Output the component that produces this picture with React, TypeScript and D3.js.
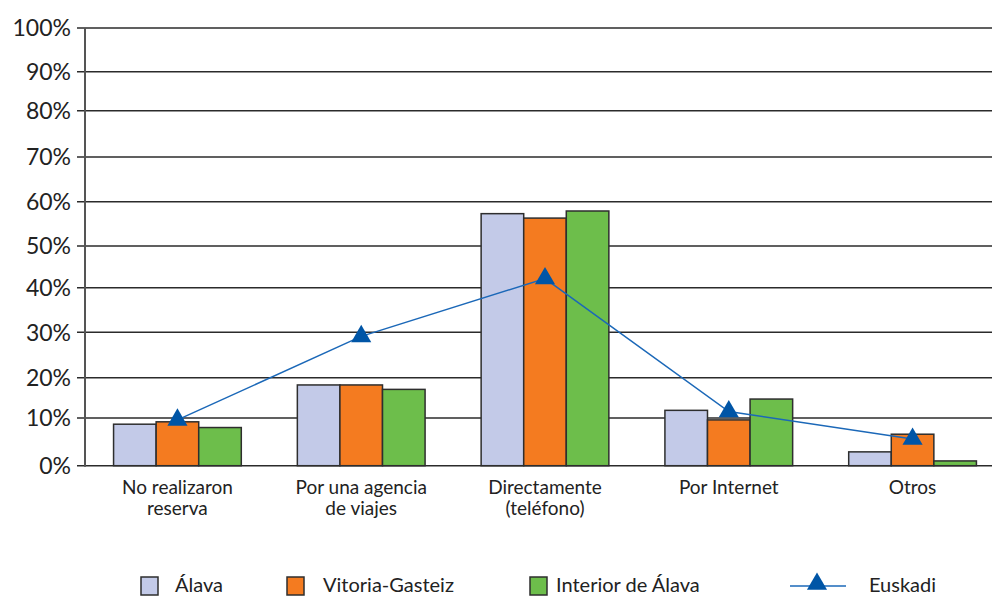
import * as d3 from 'd3';
import React, { useEffect, useRef } from 'react';

const categories = [
    ['No realizaron', 'reserva'],
    ['Por una agencia', 'de viajes'],
    ['Directamente', '(teléfono)'],
    ['Por Internet'],
    ['Otros'],
];
const seriesNames = ['Álava', 'Vitoria-Gasteiz', 'Interior de Álava'];
const alava = [8.7, 18.2, 57.3, 11.9, 2.9];
const vitoria = [9.2, 18.2, 56.3, 9.6, 6.6];
const interior = [8.0, 17.1, 57.9, 14.7, 1.0];
const euskadi = [9.6, 29.1, 42.2, 11.6, 5.6];
const yTicks = [0, 10, 20, 30, 40, 50, 60, 70, 80, 90, 100];
// the printed grid is not evenly spaced, so the scale follows it piecewise
const yTickPos = [465.7, 418, 377.7, 332.3, 287.7, 246, 201.7, 157, 110.7, 71.7, 28];

const colors = ['#c3cae8', '#f47b20', '#6dbe4b'];
const lineColor = '#1b68b8';
const markerColor = '#0055a6';
const font = 'Lato, "Open Sans", sans-serif';

const App = () => {
    const svgRef = useRef<SVGSVGElement | null>(null);

    useEffect(() => {
        const width = 992;
        const height = 596;
        const svg = d3.select(svgRef.current);
        svg.selectAll('*').remove();
        svg.attr('width', width).attr('height', height).attr('viewBox', [0, 0, width, height]);

        const keys = categories.map((c) => c.join(' '));
        const x0 = d3.scaleBand().domain(keys).range([86, 1004]).paddingInner(0.305).paddingOuter(0.15);
        const x1 = d3.scaleBand().domain(seriesNames).range([0, x0.bandwidth()]);
        const y = d3.scaleLinear().domain(yTicks).range(yTickPos);

        // grid
        svg.append('g')
            .selectAll('line')
            .data(yTicks)
            .join('line')
            .attr('x1', 77)
            .attr('x2', width)
            .attr('y1', (d) => y(d))
            .attr('y2', (d) => y(d))
            .attr('stroke', '#2b2b2b')
            .attr('stroke-width', 1.5);

        svg.append('g')
            .selectAll('text')
            .data(yTicks)
            .join('text')
            .attr('x', 71)
            .attr('y', (d) => y(d))
            .attr('dy', '0.36em')
            .attr('text-anchor', 'end')
            .attr('font-family', font)
            .attr('font-size', 23)
            .attr('fill', '#222')
            .text((d) => `${d}%`);

        svg.append('line')
            .attr('x1', 85)
            .attr('x2', 85)
            .attr('y1', y(100))
            .attr('y2', y(0) + 1)
            .attr('stroke', '#555')
            .attr('stroke-width', 2);

        // bars
        const series = [alava, vitoria, interior];
        const groups = svg
            .append('g')
            .selectAll('g')
            .data(keys)
            .join('g')
            .attr('transform', (d) => `translate(${x0(d)},0)`);
        groups
            .selectAll('rect')
            .data((_, i) => series.map((s, j) => ({ name: seriesNames[j], value: s[i], j })))
            .join('rect')
            .attr('x', (d) => x1(d.name)!)
            .attr('width', x1.bandwidth())
            .attr('y', (d) => y(d.value))
            .attr('height', (d) => y(0) - y(d.value))
            .attr('fill', (d) => colors[d.j])
            .attr('stroke', '#2e2e2e')
            .attr('stroke-width', 1.5);

        // category labels, one text per line
        const labelG = svg
            .append('g')
            .attr('text-anchor', 'middle')
            .attr('font-family', font)
            .attr('font-size', 19)
            .attr('fill', '#222');
        categories.forEach((lines, i) => {
            lines.forEach((t, k) => {
                labelG
                    .append('text')
                    .attr('x', x0(keys[i])! + x0.bandwidth() / 2)
                    .attr('y', 494 + k * 21)
                    .text(t);
            });
        });

        // Euskadi line
        const cx = (i: number) => x0(keys[i])! + x0.bandwidth() / 2;
        const line = d3
            .line<number>()
            .x((_, i) => cx(i))
            .y((d) => y(d));
        svg.append('path')
            .datum(euskadi)
            .attr('d', line)
            .attr('fill', 'none')
            .attr('stroke', lineColor)
            .attr('stroke-width', 1.5);
        const tri = d3.symbol(d3.symbolTriangle, 175);
        svg.append('g')
            .selectAll('path')
            .data(euskadi)
            .join('path')
            .attr('transform', (d, i) => `translate(${cx(i)},${y(d)})`)
            .attr('d', tri)
            .attr('fill', markerColor);

        // legend
        const legend = svg.append('g').attr('font-family', font).attr('font-size', 20).attr('fill', '#222');
        const boxX = [141, 287, 530];
        const textX = [175, 323, 556];
        seriesNames.forEach((name, i) => {
            legend
                .append('rect')
                .attr('x', boxX[i])
                .attr('y', 577)
                .attr('width', 17)
                .attr('height', 18)
                .attr('fill', colors[i])
                .attr('stroke', '#2e2e2e')
                .attr('stroke-width', 1.5);
            legend.append('text').attr('x', textX[i]).attr('y', 592).text(name);
        });
        legend
            .append('line')
            .attr('x1', 790)
            .attr('x2', 846)
            .attr('y1', 586)
            .attr('y2', 586)
            .attr('stroke', lineColor)
            .attr('stroke-width', 1.5);
        legend
            .append('path')
            .attr('transform', 'translate(817,584)')
            .attr('d', tri)
            .attr('fill', markerColor);
        legend.append('text').attr('x', 869).attr('y', 592).text('Euskadi');
    }, []);

    return (
        <svg
            ref={svgRef}
            style={{ position: 'absolute', left: 0, top: 0, background: '#fff' }}
        />
    );
};

export default App;
